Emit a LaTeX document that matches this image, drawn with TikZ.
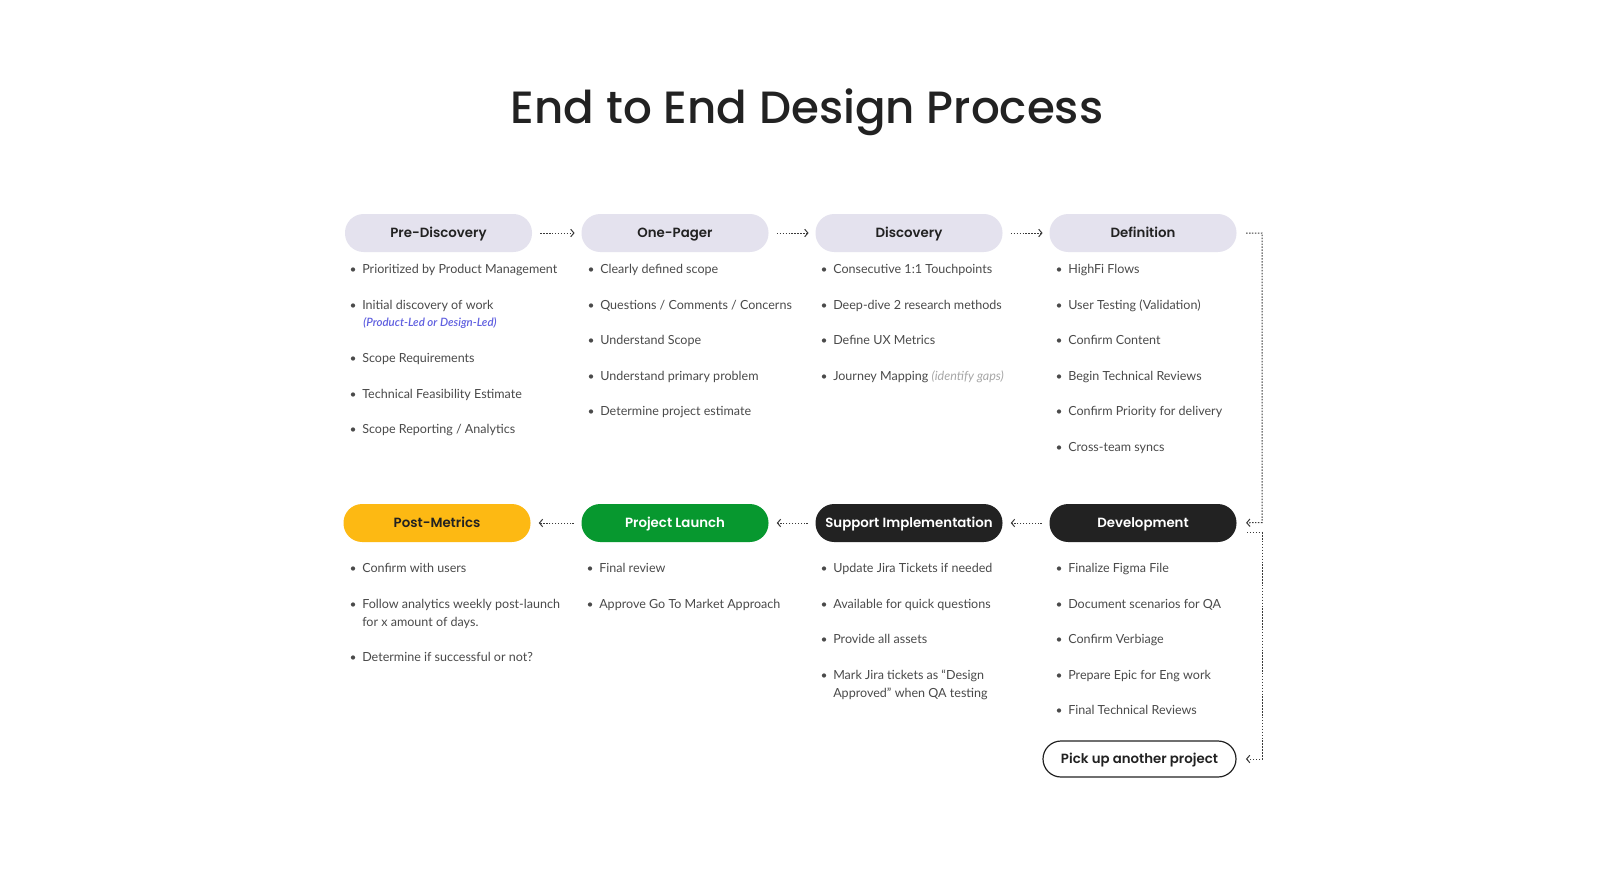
\documentclass[tikz,border=0pt]{standalone}
\usepackage{fontspec}
\setmainfont{Lato}
\usetikzlibrary{arrows.meta}
\IfFontExistsTF{Poppins SemiBold}{\newfontfamily\popsb{Poppins SemiBold}}{\newfontfamily\popsb{Poppins}[FakeBold=2]}
\IfFontExistsTF{Poppins Medium}{\newfontfamily\popmd{Poppins Medium}}{\newfontfamily\popmd{Poppins}}
\IfFontExistsTF{Lato Semibold Italic}{\newfontfamily\latosbi{Lato Semibold Italic}}{\newfontfamily\latosbi{Lato Italic}}
\definecolor{pillgray}{HTML}{E4E2EE}
\definecolor{ink}{HTML}{222222}
\definecolor{bodytxt}{HTML}{4A4A4A}
\definecolor{pmyellow}{HTML}{FDB913}
\definecolor{plgreen}{HTML}{07982F}
\definecolor{subblue}{HTML}{5F5FE0}
\definecolor{subgray}{HTML}{A8A8A8}
\definecolor{flowc}{HTML}{3A3A3A}
\newcommand\bitem[4]{%
  \node[bdot] (#1b) at ({#2-9},{#3+1.5}) {};
  \node[item] (#1) at (#2,{#3+5}) {#4};}
% two-line item: base anchor of a multi-line node is its last line
\newcommand\bitemtwo[4]{%
  \node[bdot] (#1b) at ({#2-9},{#3+1.5}) {};
  \node[item] (#1) at (#2,{#3+23}) {#4};}
\begin{document}
\begin{tikzpicture}[x=0.75pt,y=-0.75pt,
  pillbase/.style={rectangle, rounded corners=14pt, minimum width=140.25pt,
    minimum height=28.5pt, inner sep=0pt, text height=7.4pt, text depth=0.6pt,
    font=\popsb\fontsize{10}{12}\selectfont},
  pgray/.style={pillbase, fill=pillgray, text=ink},
  pdark/.style={pillbase, fill=ink, text=white},
  pyellow/.style={pillbase, fill=pmyellow, text=ink},
  pgreen/.style={pillbase, fill=plgreen, text=white},
  pwhite/.style={pillbase, fill=white, draw=ink, line width=0.9pt, text=ink,
    minimum width=144.75pt, minimum height=27pt, rounded corners=13.5pt},
  item/.style={anchor=base west, inner sep=0pt, text=bodytxt, align=left,
    font=\fontsize{9.4}{13.5}\selectfont},
  subnote/.style={anchor=base west, inner sep=0pt, text=subblue,
    font=\latosbi\fontsize{8.6}{10}\selectfont},
  bdot/.style={circle, fill=bodytxt, draw=none, inner sep=0pt, minimum size=3.2pt},
  flow/.style={draw=flowc, line width=0.75pt, dash pattern=on 1.1pt off 1.1pt,
    -{Straight Barb[length=2.4pt,width=5.6pt]}}
]
\useasboundingbox (0,0) rectangle (1614,872);
\fill[white] (0,0) rectangle (1614,872);

\node[anchor=base, inner sep=0pt, text=ink, font=\popmd\fontsize{33.9}{40}\selectfont]
  (title) at (807,123) {End to End Design Process};

% top row
\node[pgray] (pd) at (438.5,233) {Pre-Discovery};
\node[pgray] (op) at (675,233) {One-Pager};
\node[pgray] (ds) at (909,233) {Discovery};
\node[pgray] (df) at (1143,233) {Definition};
% bottom row
\node[pyellow] (pm) at (437,523) {Post-Metrics};
\node[pgreen] (pl) at (675,523) {Project Launch};
\node[pdark] (si) at (909,523) {Support Implementation};
\node[pdark] (dv) at (1143,523) {Development};
\node[pwhite] (pu) at (1139.5,759) {Pick up another project};

% connectors
\draw[flow, shorten <=6pt, shorten >=5pt] (pd) -- (op);
\draw[flow, shorten <=6pt, shorten >=5pt] (op) -- (ds);
\draw[flow, shorten <=6pt, shorten >=5pt] (ds) -- (df);
\draw[flow, shorten <=5.5pt, shorten >=6pt] (dv) -- (si);
\draw[flow, shorten <=5.5pt, shorten >=6pt] (si) -- (pl);
\draw[flow, shorten <=5.5pt, shorten >=6pt] (pl) -- (pm);

\coordinate (r1) at (1262,233);
\coordinate (r2) at (1262,522.5);
\draw[flow, shorten <=7pt, shorten >=7pt] (df.east) -- (r1) -- (r2) -- (dv.east);
\coordinate (r3) at (1247,532.5);
\coordinate (r4) at (1262,532.5);
\coordinate (r5) at (1262,759);
\draw[flow, shorten >=7pt] (r3) -- (r4) -- (r5) -- (pu.east);

% top row items
\bitem{a1}{362}{268}{Prioritized by Product Management}
\bitem{a2}{362}{304}{Initial discovery of work}
\node[subnote] (a2s) at (363,326) {(Product-Led or Design-Led)};
\bitem{a3}{362}{357}{Scope Requirements}
\bitem{a4}{362}{393}{Technical Feasibility Estimate}
\bitem{a5}{362}{428}{Scope Reporting / Analytics}

\bitem{b1}{600}{268}{Clearly defined scope}
\bitem{b2}{600}{304}{Questions / Comments / Concerns}
\bitem{b3}{600}{339}{Understand Scope}
\bitem{b4}{600}{375}{Understand primary problem}
\bitem{b5}{600}{410}{Determine project estimate}

\bitem{c1}{833}{268}{Consecutive 1:1 Touchpoints}
\bitem{c2}{833}{304}{Deep-dive 2 research methods}
\bitem{c3}{833}{339}{Define UX Metrics}
\bitem{c4}{833}{375}{Journey Mapping {\color{subgray}\itshape (identify gaps)}}

\bitem{d1}{1068}{268}{HighFi Flows}
\bitem{d2}{1068}{304}{User Testing (Validation)}
\bitem{d3}{1068}{339}{Confirm Content}
\bitem{d4}{1068}{375}{Begin Technical Reviews}
\bitem{d5}{1068}{410}{Confirm Priority for delivery}
\bitem{d6}{1068}{446}{Cross-team syncs}

% bottom row items
\bitem{e1}{362}{567}{Confirm with users}
\bitemtwo{e2}{362}{603}{Follow analytics weekly post-launch\\for x amount of days.}
\bitem{e3}{362}{656}{Determine if successful or not?}

\bitem{f1}{599}{567}{Final review}
\bitem{f2}{599}{603}{Approve Go To Market Approach}

\bitem{g1}{833}{567}{Update Jira Tickets if needed}
\bitem{g2}{833}{603}{Available for quick questions}
\bitem{g3}{833}{638}{Provide all assets}
\bitemtwo{g4}{833}{674}{Mark Jira tickets as “Design\\Approved” when QA testing}

\bitem{h1}{1068}{567}{Finalize Figma File}
\bitem{h2}{1068}{603}{Document scenarios for QA}
\bitem{h3}{1068}{638}{Confirm Verbiage}
\bitem{h4}{1068}{674}{Prepare Epic for Eng work}
\bitem{h5}{1068}{709}{Final Technical Reviews}
\end{tikzpicture}
\end{document}
